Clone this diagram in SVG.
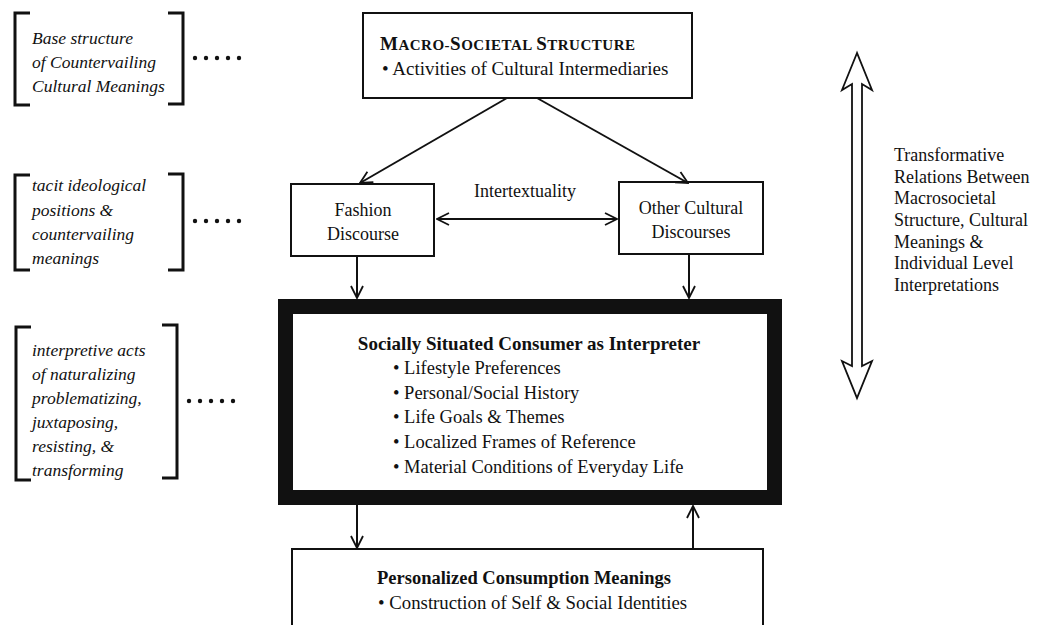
<svg xmlns="http://www.w3.org/2000/svg" width="1038" height="625" viewBox="0 0 1038 625">
<defs>
<style>
.t{font-family:"Liberation Serif","Times New Roman",serif;fill:#111}
.it{font-family:"Liberation Serif","Times New Roman",serif;font-style:italic;font-size:17.5px;fill:#111}
.b{font-weight:bold}
.br{fill:none;stroke:#111;stroke-width:3}
.box{fill:#fff;stroke:#111;stroke-width:2}
.ln{fill:none;stroke:#111;stroke-width:2}
.dot{fill:#111}
</style>
<marker id="ah" viewBox="0 0 14 14" refX="13" refY="7" markerWidth="14" markerHeight="14" markerUnits="userSpaceOnUse" orient="auto-start-reverse">
<path d="M1,1 L13,7 L1,13" fill="none" stroke="#111" stroke-width="1.8"/>
</marker>
</defs>
<rect width="1038" height="625" fill="#fff"/>

<g id="bracket-base">
<path class="br" d="M30,13 L15,13 L15,105 L30,105"/>
<path class="br" d="M168,13 L183,13 L183,104 L168,104"/>
<text class="it" x="32" y="44">Base structure</text>
<text class="it" x="32" y="68">of Countervailing</text>
<text class="it" x="32" y="92">Cultural Meanings</text>
<g class="dot"><circle cx="195" cy="58" r="2.2"/><circle cx="206" cy="58" r="2.2"/><circle cx="217" cy="58" r="2.2"/><circle cx="228" cy="58" r="2.2"/><circle cx="239" cy="58" r="2.2"/></g>
</g>

<g id="bracket-tacit">
<path class="br" d="M30,175 L15,175 L15,270 L30,270"/>
<path class="br" d="M168,174 L183,174 L183,270 L168,270"/>
<text class="it" x="32" y="191">tacit ideological</text>
<text class="it" x="32" y="216">positions &amp;</text>
<text class="it" x="32" y="240">countervailing</text>
<text class="it" x="32" y="264">meanings</text>
<g class="dot"><circle cx="195" cy="221" r="2.2"/><circle cx="206" cy="221" r="2.2"/><circle cx="217" cy="221" r="2.2"/><circle cx="228" cy="221" r="2.2"/><circle cx="239" cy="221" r="2.2"/></g>
</g>

<g id="bracket-interpretive">
<path class="br" d="M31,327 L16,327 L16,480 L31,480"/>
<path class="br" d="M162,325 L177,325 L177,478 L162,478"/>
<text class="it" x="32" y="356">interpretive acts</text>
<text class="it" x="32" y="380">of naturalizing</text>
<text class="it" x="32" y="404">problematizing,</text>
<text class="it" x="32" y="428">juxtaposing,</text>
<text class="it" x="32" y="452">resisting, &amp;</text>
<text class="it" x="32" y="476">transforming</text>
<g class="dot"><circle cx="189" cy="401" r="2.2"/><circle cx="200" cy="401" r="2.2"/><circle cx="211" cy="401" r="2.2"/><circle cx="222" cy="401" r="2.2"/><circle cx="233" cy="401" r="2.2"/></g>
</g>

<g id="macro">
<rect class="box" x="363" y="13" width="329" height="85"/>
<text class="t b" x="380" y="50" font-size="19" textLength="255" lengthAdjust="spacing"><tspan>M</tspan><tspan font-size="15">ACRO-</tspan><tspan>S</tspan><tspan font-size="15">OCIETAL </tspan><tspan>S</tspan><tspan font-size="15">TRUCTURE</tspan></text>
<text class="t" x="382" y="75" font-size="19">•  Activities of Cultural Intermediaries</text>
</g>

<g id="fashion">
<rect class="box" x="291" y="184" width="143" height="72"/>
<text class="t" x="363" y="216" font-size="18" text-anchor="middle">Fashion</text>
<text class="t" x="363" y="240" font-size="18" text-anchor="middle">Discourse</text>
</g>

<g id="other">
<rect class="box" x="619" y="182" width="144" height="72"/>
<text class="t" x="691" y="214" font-size="18" text-anchor="middle">Other Cultural</text>
<text class="t" x="691" y="238" font-size="18" text-anchor="middle">Discourses</text>
</g>

<g id="consumer">
<rect x="285.5" y="306.5" width="489" height="191" fill="#fff" stroke="#111" stroke-width="15"/>
<text class="t b" x="529" y="350" font-size="19" text-anchor="middle">Socially Situated Consumer as Interpreter</text>
<text class="t" x="393" y="374" font-size="18.5">•  Lifestyle Preferences</text>
<text class="t" x="393" y="399" font-size="18.5">•  Personal/Social History</text>
<text class="t" x="393" y="423" font-size="18.5">•  Life Goals &amp; Themes</text>
<text class="t" x="393" y="448" font-size="18.5">•  Localized Frames of Reference</text>
<text class="t" x="393" y="473" font-size="18.5">•  Material Conditions of Everyday Life</text>
</g>

<g id="personalized">
<rect class="box" x="292" y="549" width="471" height="90"/>
<text class="t b" x="524" y="584" font-size="18.5" text-anchor="middle">Personalized Consumption Meanings</text>
<text class="t" x="378" y="609" font-size="18.8">•  Construction of Self &amp; Social Identities</text>
</g>

<g id="transformative">
<path d="M857,53 L842,90 L852,84 L852,366 L842,361 L857,398 L872,361 L862,366 L862,84 L872,90 Z" fill="#fff" stroke="#111" stroke-width="1.8" stroke-linejoin="miter"/>
<text class="t" x="894" y="161" font-size="18">Transformative</text>
<text class="t" x="894" y="183" font-size="18">Relations Between</text>
<text class="t" x="894" y="204" font-size="18">Macrosocietal</text>
<text class="t" x="894" y="226" font-size="18">Structure, Cultural</text>
<text class="t" x="894" y="248" font-size="18">Meanings &amp;</text>
<text class="t" x="894" y="269" font-size="18">Individual Level</text>
<text class="t" x="894" y="291" font-size="18">Interpretations</text>
</g>

<g id="connectors">
<line class="ln" x1="507" y1="98" x2="360" y2="183" marker-end="url(#ah)"/>
<line class="ln" x1="537" y1="98" x2="688" y2="183" marker-end="url(#ah)"/>
<line class="ln" x1="437" y1="219" x2="617" y2="219" marker-start="url(#ah)" marker-end="url(#ah)"/>
<text class="t" x="525" y="197" font-size="18" text-anchor="middle">Intertextuality</text>
<line class="ln" x1="357" y1="256" x2="357" y2="298" marker-end="url(#ah)"/>
<line class="ln" x1="689" y1="254" x2="689" y2="298" marker-end="url(#ah)"/>
<line class="ln" x1="357" y1="505" x2="357" y2="548" marker-end="url(#ah)"/>
<line class="ln" x1="693" y1="548" x2="693" y2="506" marker-end="url(#ah)"/>
</g>
</svg>
